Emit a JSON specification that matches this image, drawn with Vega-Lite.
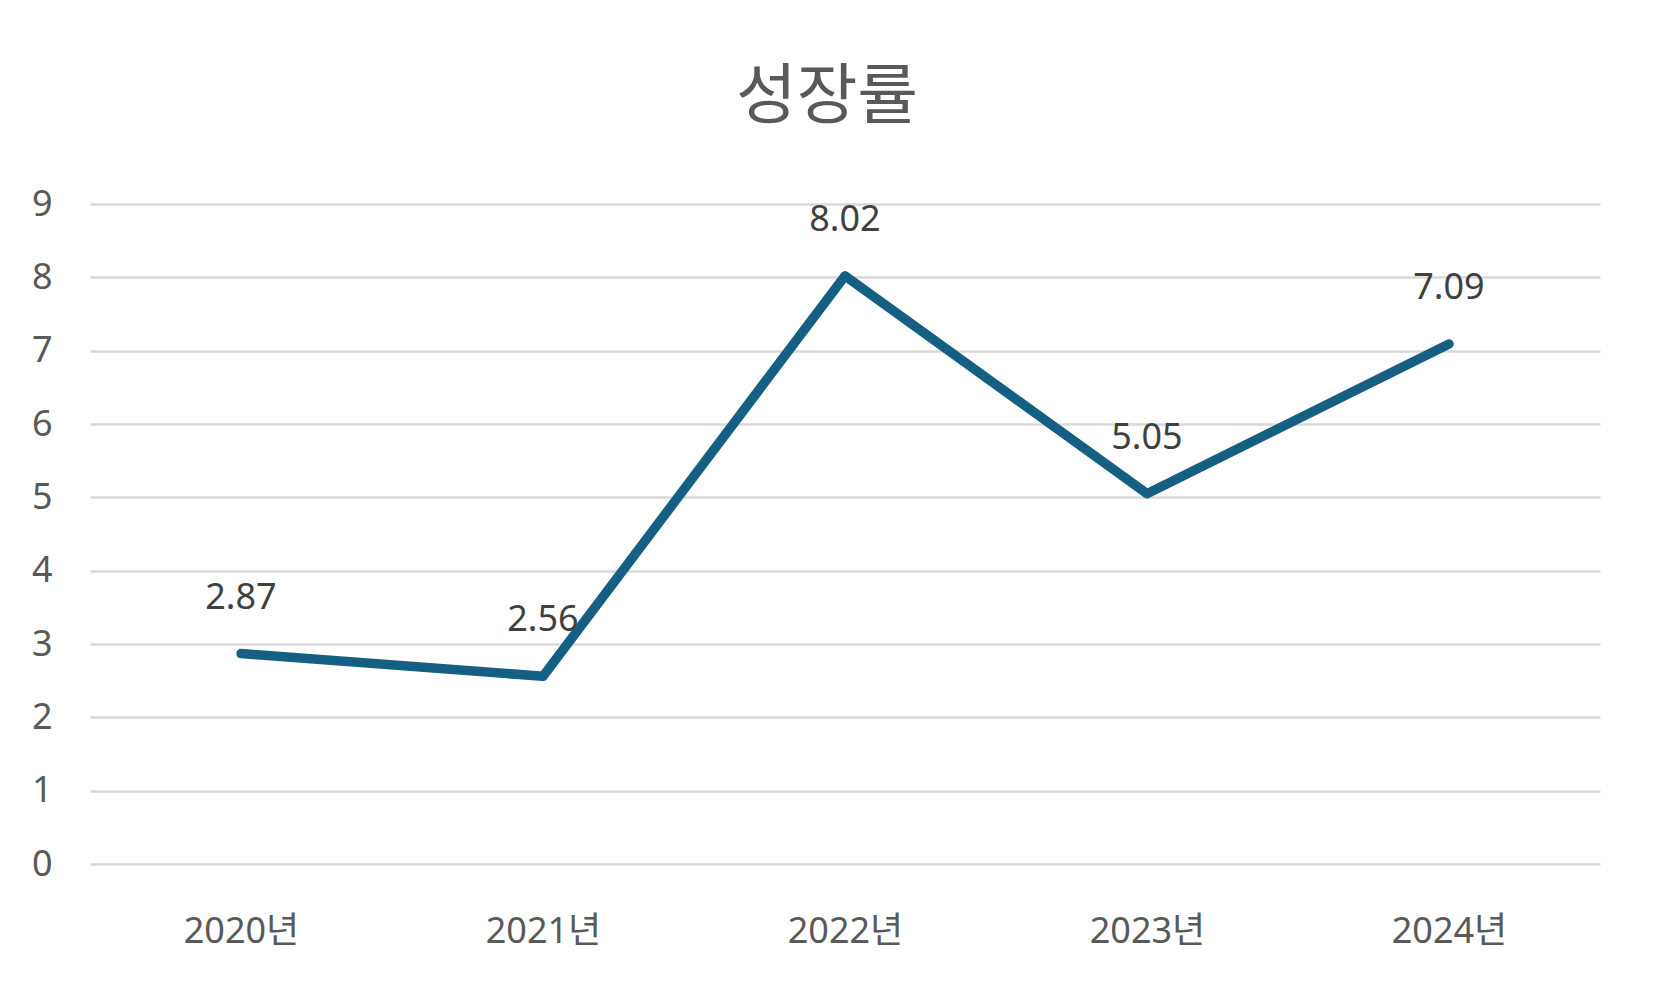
{
  "$schema": "https://vega.github.io/schema/vega-lite/v6.json",
  "autosize": {"type": "none"},
  "width": 1510,
  "height": 660,
  "padding": {"left": 90, "top": 204, "right": 53, "bottom": 129},
  "background": "white",
  "title": {
    "text": "성장률",
    "fontSize": 66,
    "font": "Noto Sans CJK KR",
    "fontWeight": "normal",
    "color": "#595959",
    "anchor": "middle",
    "dx": -18,
    "offset": 54
  },
  "data": {
    "values": [
      {"year": "2020년", "value": 2.87},
      {"year": "2021년", "value": 2.56},
      {"year": "2022년", "value": 8.02},
      {"year": "2023년", "value": 5.05},
      {"year": "2024년", "value": 7.09}
    ]
  },
  "encoding": {
    "x": {
      "field": "year",
      "type": "nominal",
      "sort": null,
      "scale": {"paddingInner": 0, "paddingOuter": 0.5},
      "axis": {
        "title": null,
        "labelAngle": 0,
        "domain": false,
        "ticks": false,
        "grid": false,
        "labelFont": "Noto Sans, Noto Sans CJK KR",
        "labelFontSize": 36,
        "labelColor": "#595959",
        "labelPadding": 50
      }
    },
    "y": {
      "field": "value",
      "type": "quantitative",
      "scale": {"domain": [0, 9], "nice": false},
      "axis": {
        "title": null,
        "values": [0, 1, 2, 3, 4, 5, 6, 7, 8, 9],
        "domain": false,
        "ticks": false,
        "grid": true,
        "gridColor": "#d9d9d9",
        "gridWidth": 2.5,
        "labelFont": "Noto Sans, Noto Sans CJK KR",
        "labelFontSize": 36,
        "labelColor": "#595959",
        "labelPadding": 38
      }
    }
  },
  "layer": [
    {
      "mark": {
        "type": "line",
        "color": "#156082",
        "strokeWidth": 9.5,
        "strokeCap": "round",
        "strokeJoin": "round"
      }
    },
    {
      "mark": {
        "type": "text",
        "dy": -56,
        "font": "Noto Sans, Noto Sans CJK KR",
        "fontSize": 36,
        "color": "#404040",
        "baseline": "middle"
      },
      "encoding": {"text": {"field": "value", "type": "quantitative", "format": ".2f"}}
    }
  ],
  "config": {"view": {"stroke": null}}
}
